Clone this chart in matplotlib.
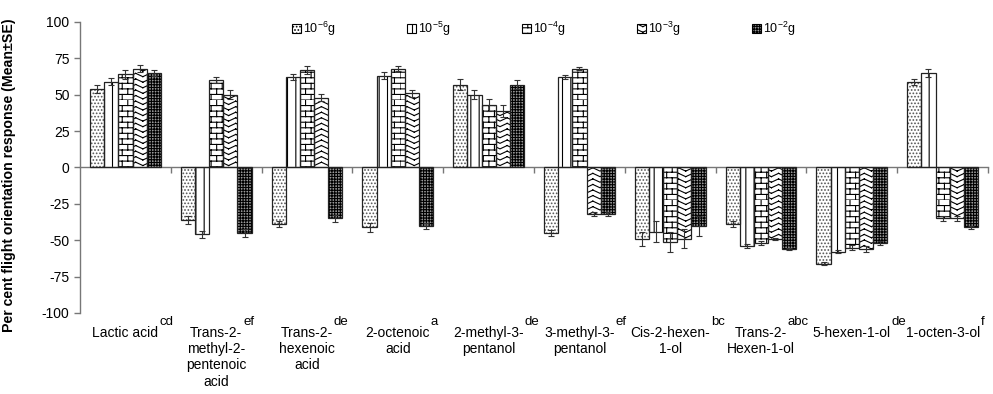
import warnings
import numpy as np
import matplotlib
matplotlib.use('Agg')
import matplotlib.pyplot as plt
import matplotlib.patches as mpatches
import matplotlib.hatch as mhatch
import matplotlib.transforms as mtransforms
from matplotlib.path import Path

warnings.filterwarnings('ignore')

# data (per cent response, mean and SE)
compounds = ['Lactic acid', 'Trans-2-\nmethyl-2-\npentenoic\nacid', 'Trans-2-\nhexenoic\nacid',
             '2-octenoic\nacid', '2-methyl-3-\npentanol', '3-methyl-3-\npentanol',
             'Cis-2-hexen-\n1-ol', 'Trans-2-\nHexen-1-ol', '5-hexen-1-ol', '1-octen-3-ol']
letters = ['cd', 'ef', 'de', 'a', 'de', 'ef', 'bc', 'abc', 'de', 'f']
doses = ['10$^{\\mathregular{-6}}$g', '10$^{\\mathregular{-5}}$g', '10$^{\\mathregular{-4}}$g',
         '10$^{\\mathregular{-3}}$g', '10$^{\\mathregular{-2}}$g']

d6 = [54, -36, -39, -41, 57, -45, -49, -39, -66, 59]
d5 = [59, -46, 62, 63, 50, 62, -44, -54, -58, 65]
d4 = [64, 60, 67, 68, 43, 68, -51, -52, -55, -35]
d3 = [68, 50, 48, 51, 39, -32, -49, -49, -56, -35]
d2 = [65, -45, -35, -40, 57, -32, -40, -56, -52, -41]

e6 = [3, 3, 2, 3, 4, 2, 5, 2, 1, 2]
e5 = [2.5, 2.5, 2, 2.5, 3, 1.5, 7, 1.5, 1, 2.5]
e4 = [3, 2, 2.5, 2, 4, 1, 7, 1.5, 2, 2]
e3 = [2.5, 3, 2.5, 2.5, 4, 1.5, 6.5, 0.5, 2, 2]
e2 = [2, 2.5, 2.5, 2, 3, 1.5, 7, 0.5, 1.5, 1]

means = [d6, d5, d4, d3, d2]
errs = [e6, e5, e4, e3, e2]


# extra hatch patterns: 'b' = brick, 'z' = zigzag (drawn as separate segments,
# since agg fills hatch paths before stroking them)
class BrickHatch(mhatch.HatchPatternBase):
    def __init__(self, hatch, density):
        rows = hatch.count('b') * density
        self.rows = rows + rows % 2
        self.cols = self.rows // 2
        self.num_vertices = 2 * self.rows + 2 * self.rows * self.cols

    def set_vertices_and_codes(self, vertices, codes):
        h = 1.0 / self.rows
        w = 2 * h
        n = 0
        for k in range(self.rows):
            y = k * h
            vertices[n] = (0, y); vertices[n + 1] = (1, y)
            codes[n] = Path.MOVETO; codes[n + 1] = Path.LINETO
            n += 2
            off = 0 if k % 2 == 0 else w / 2
            for j in range(self.cols):
                xx = off + j * w
                vertices[n] = (xx, y); vertices[n + 1] = (xx, y + h)
                codes[n] = Path.MOVETO; codes[n + 1] = Path.LINETO
                n += 2


class ZigzagHatch(mhatch.HatchPatternBase):
    def __init__(self, hatch, density):
        self.rows = hatch.count('z') * density
        self.teeth = 7
        self.num_vertices = self.rows * 4 * self.teeth if self.rows else 0

    def set_vertices_and_codes(self, vertices, codes):
        h = 1.0 / self.rows
        npt = 2 * self.teeth + 1
        xs = np.linspace(0, 1, npt)
        offs = (np.arange(npt) % 2) * h * 0.6
        n = 0
        for k in range(self.rows):
            ys = k * h + 0.2 * h + offs
            for m in range(npt - 1):
                vertices[n] = (xs[m], ys[m]); vertices[n + 1] = (xs[m + 1], ys[m + 1])
                codes[n] = Path.MOVETO; codes[n + 1] = Path.LINETO
                n += 2


mhatch._hatch_types.extend([BrickHatch, ZigzagHatch])

plt.rcParams['font.family'] = ['Liberation Sans', 'DejaVu Sans']
plt.rcParams['axes.unicode_minus'] = False
plt.rcParams['hatch.linewidth'] = 0.8

hatches = ['.....', '||', 'bbb', 'zzz', '++++++']
hatch_colors = ['#555555', 'black', 'black', 'black', 'black']
face_colors = ['white', 'white', 'white', 'white', '#9a9a9a']

fig = plt.figure(figsize=(9.93, 3.94), dpi=100)
ax = fig.add_axes([0.0806, 0.2056, 0.9144, 0.7386])

x = np.arange(len(compounds))
width = 0.156
handles = []
for j, (vals, err) in enumerate(zip(means, errs)):
    pos = x + (j - 2) * width
    ax.bar(pos, vals, width, color=face_colors[j], edgecolor=hatch_colors[j],
           hatch=hatches[j], linewidth=0, zorder=2)
    ax.bar(pos, vals, width, fill=False, edgecolor='#222222', linewidth=0.9, zorder=3)
    ax.errorbar(pos, vals, yerr=err, fmt='none', ecolor='#333333', elinewidth=0.8,
                capsize=2.5, capthick=0.8, zorder=4)
    handles.append(mpatches.Patch(facecolor=face_colors[j], edgecolor='black',
                                  hatch=hatches[j], linewidth=0.8, label=doses[j]))

ax.set_xlim(-0.5, len(compounds) - 0.5)
ax.set_ylim(-100, 100)
ax.set_yticks(np.arange(-100, 101, 25))
ax.tick_params(axis='y', labelsize=10, direction='out', length=4, color='#777777', width=1)
ax.set_xticks(x + 0.5)
ax.set_xticklabels([])
ax.tick_params(axis='x', direction='out', length=4, color='#777777', width=1)

for s in ['top', 'right']:
    ax.spines[s].set_visible(False)
ax.spines['bottom'].set_position(('data', 0))
for s in ['left', 'bottom']:
    ax.spines[s].set_color('#777777')
    ax.spines[s].set_linewidth(1)

ax.set_ylabel('Per cent flight orientation response (Mean\u00b1SE)', fontsize=10.2,
              fontweight='bold')
ax.yaxis.set_label_coords(-0.0705, 0.474)

# category labels under the plot with significance letters
lab_tf = mtransforms.blended_transform_factory(ax.transData, ax.transAxes)
renderer = fig.canvas.get_renderer()
for i, (name, sig) in enumerate(zip(compounds, letters)):
    ax.text(i, -0.045, name, transform=lab_tf, ha='center', va='top', fontsize=10,
            multialignment='center')
    probe = ax.text(i, -0.045, name.split('\n')[0], transform=lab_tf, ha='center',
                    va='top', fontsize=10)
    bb = probe.get_window_extent(renderer=renderer)
    probe.remove()
    ax.annotate(sig, xy=(bb.x1, bb.y1), xycoords='figure pixels', xytext=(0.5, 0.8),
                textcoords='offset points', ha='left', va='baseline', fontsize=9.5)

ax.legend(handles=handles, loc='center left', bbox_to_anchor=(0.2335, 0.976),
          ncol=5, frameon=False, fontsize=9, handlelength=0.7, handleheight=0.7,
          handletextpad=0.2, columnspacing=5.7, borderpad=0, borderaxespad=0)

fig.savefig('out.png', dpi=100)
